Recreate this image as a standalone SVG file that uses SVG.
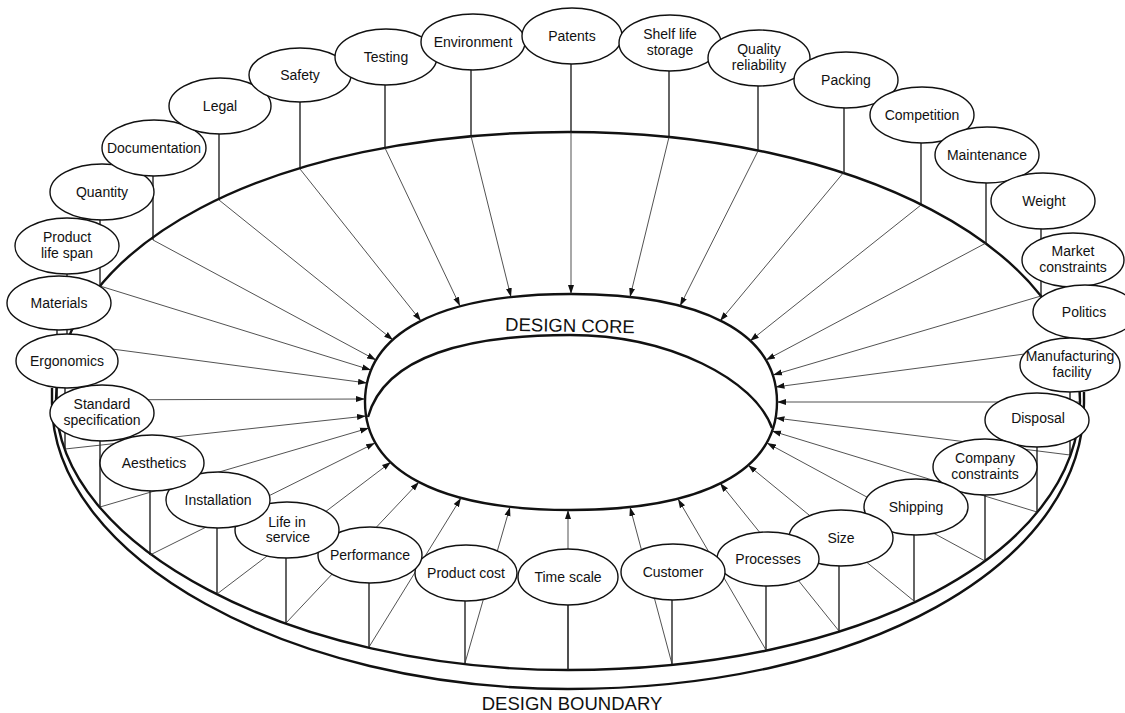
<svg xmlns="http://www.w3.org/2000/svg" width="1125" height="713" viewBox="0 0 1125 713">
<defs>
<style>
.node ellipse{fill:#fff;stroke:#111;stroke-width:1.4}
.node text,.lbl{font-family:"Liberation Sans",Arial,sans-serif;fill:#111;text-anchor:middle}
.node text{font-size:14px}
.lbl{font-size:18.5px}
.stem{stroke:#111;stroke-width:1.3;fill:none}
.arr{stroke:#333;stroke-width:0.85;fill:none;marker-end:url(#ah)}
.bd{fill:none;stroke:#111;stroke-width:2.4}
</style>
<marker id="ah" markerUnits="userSpaceOnUse" markerWidth="9" markerHeight="7" refX="9" refY="3.5" orient="auto"><path d="M0,0.5 L9,3.5 L0,6.5 z" fill="#111"/></marker>
</defs>
<rect width="1125" height="713" fill="#fff"/>
<g id="design-boundary">
<path class="bd" d="M56,401 C56,245 271,132 568,132 C855,132 1080,250 1080,401 C1080,554 860,670 568,670 C291.5,670 56,546 56,401 Z"/>
<path class="bd" d="M52,388 L52,403 C52,557 289,689 568,689 C862,689 1084,566 1084,403 L1084,392"/>
</g>
<g id="design-core">
<path class="bd" d="M365,402 C365,332.9 439.2,294 571,294 C702.8,294 777,332.9 777,402 C777,471.1 702.8,510 571,510 C439.2,510 365,471.1 365,402 Z"/>
<path class="bd" d="M368,417 C385,355 470,335 570,335 C670,335 755,380 772,428"/>
</g>
<g id="connectors">
<line class="stem" x1="57" y1="330" x2="57" y2="400"/><line class="arr" x1="57" y1="400" x2="365" y2="399"/>
<line class="stem" x1="67" y1="274" x2="67" y2="343"/><line class="arr" x1="67" y1="343" x2="367" y2="383"/>
<line class="stem" x1="100" y1="220" x2="100" y2="286"/><line class="arr" x1="100" y1="286" x2="371" y2="370"/>
<line class="stem" x1="153" y1="176" x2="153" y2="240"/><line class="arr" x1="153" y1="240" x2="376" y2="360"/>
<line class="stem" x1="219" y1="134" x2="219" y2="200"/><line class="arr" x1="219" y1="200" x2="393" y2="340"/>
<line class="stem" x1="300" y1="102" x2="300" y2="169"/><line class="arr" x1="300" y1="169" x2="421" y2="321"/>
<line class="stem" x1="385" y1="85" x2="385" y2="148"/><line class="arr" x1="385" y1="148" x2="460" y2="306"/>
<line class="stem" x1="471" y1="70" x2="471" y2="136"/><line class="arr" x1="471" y1="136" x2="511" y2="297"/>
<line class="stem" x1="571" y1="64" x2="571" y2="132"/><line class="arr" x1="571" y1="132" x2="571" y2="294"/>
<line class="stem" x1="669" y1="71" x2="669" y2="137"/><line class="arr" x1="669" y1="137" x2="630" y2="297"/>
<line class="stem" x1="758" y1="86" x2="758" y2="151"/><line class="arr" x1="758" y1="151" x2="680" y2="306"/>
<line class="stem" x1="844" y1="108" x2="844" y2="172"/><line class="arr" x1="844" y1="172" x2="720" y2="321"/>
<line class="stem" x1="921" y1="143" x2="921" y2="205"/><line class="arr" x1="921" y1="205" x2="750" y2="341"/>
<line class="stem" x1="986" y1="183" x2="986" y2="243"/><line class="arr" x1="986" y1="243" x2="766" y2="360"/>
<line class="stem" x1="1041" y1="229" x2="1041" y2="296"/><line class="arr" x1="1041" y1="296" x2="773" y2="375"/>
<line class="stem" x1="1070" y1="287" x2="1070" y2="348"/><line class="arr" x1="1070" y1="348" x2="775.5" y2="387"/>
<line class="stem" x1="1080" y1="339" x2="1080" y2="402"/><line class="arr" x1="1080" y1="402" x2="777" y2="402"/>
<line class="stem" x1="1070" y1="392" x2="1070" y2="455"/><line class="arr" x1="1070" y1="455" x2="775.5" y2="418"/>
<line class="stem" x1="1037" y1="447" x2="1037" y2="512"/><line class="arr" x1="1037" y1="512" x2="772" y2="431"/>
<line class="stem" x1="985" y1="495" x2="985" y2="561"/><line class="arr" x1="985" y1="561" x2="767" y2="443"/>
<line class="stem" x1="914" y1="535" x2="914" y2="601"/><line class="arr" x1="914" y1="601" x2="748" y2="465"/>
<line class="stem" x1="839" y1="566" x2="839" y2="631"/><line class="arr" x1="839" y1="631" x2="720" y2="483"/>
<line class="stem" x1="766" y1="586" x2="766" y2="650"/><line class="arr" x1="766" y1="650" x2="678" y2="499"/>
<line class="stem" x1="672" y1="600" x2="672" y2="664"/><line class="arr" x1="672" y1="664" x2="630" y2="507"/>
<line class="stem" x1="568" y1="605" x2="568" y2="670"/><line class="arr" x1="568" y1="670" x2="568" y2="510"/>
<line class="stem" x1="465" y1="601" x2="465" y2="663"/><line class="arr" x1="465" y1="663" x2="510" y2="507"/>
<line class="stem" x1="369" y1="583" x2="369" y2="647"/><line class="arr" x1="369" y1="647" x2="461" y2="498"/>
<line class="stem" x1="286" y1="558" x2="286" y2="623"/><line class="arr" x1="286" y1="623" x2="419" y2="482"/>
<line class="stem" x1="217" y1="528" x2="217" y2="594"/><line class="arr" x1="217" y1="594" x2="391" y2="462"/>
<line class="stem" x1="150" y1="491" x2="150" y2="555"/><line class="arr" x1="150" y1="555" x2="375" y2="443"/>
<line class="stem" x1="100" y1="441" x2="100" y2="507"/><line class="arr" x1="100" y1="507" x2="369" y2="428"/>
<line class="stem" x1="65" y1="388" x2="65" y2="449"/><line class="arr" x1="65" y1="449" x2="366" y2="416"/>
</g>
<g id="n-materials" class="node"><ellipse cx="59" cy="303" rx="52" ry="27"/><text x="59" y="308">Materials</text></g>
<g id="n-product-life-span" class="node"><ellipse cx="67" cy="246" rx="52" ry="28"/><text x="67" y="242">Product</text><text x="67" y="258">life span</text></g>
<g id="n-quantity" class="node"><ellipse cx="102" cy="192" rx="52" ry="28"/><text x="102" y="197">Quantity</text></g>
<g id="n-documentation" class="node"><ellipse cx="154" cy="148" rx="52" ry="28"/><text x="154" y="153">Documentation</text></g>
<g id="n-legal" class="node"><ellipse cx="220" cy="106" rx="51" ry="28"/><text x="220" y="111">Legal</text></g>
<g id="n-safety" class="node"><ellipse cx="300" cy="75" rx="51" ry="27"/><text x="300" y="80">Safety</text></g>
<g id="n-testing" class="node"><ellipse cx="386" cy="57" rx="51" ry="28"/><text x="386" y="62">Testing</text></g>
<g id="n-environment" class="node"><ellipse cx="473" cy="42" rx="52" ry="28"/><text x="473" y="47">Environment</text></g>
<g id="n-patents" class="node"><ellipse cx="572" cy="36" rx="50" ry="28"/><text x="572" y="41">Patents</text></g>
<g id="n-shelf-life-storage" class="node"><ellipse cx="670" cy="43" rx="51" ry="28"/><text x="670" y="39">Shelf life</text><text x="670" y="55">storage</text></g>
<g id="n-quality-reliability" class="node"><ellipse cx="759" cy="58" rx="51" ry="28"/><text x="759" y="54">Quality</text><text x="759" y="70">reliability</text></g>
<g id="n-packing" class="node"><ellipse cx="846" cy="80" rx="52" ry="28"/><text x="846" y="85">Packing</text></g>
<g id="n-competition" class="node"><ellipse cx="922" cy="115" rx="52" ry="28"/><text x="922" y="120">Competition</text></g>
<g id="n-maintenance" class="node"><ellipse cx="987" cy="155" rx="52" ry="28"/><text x="987" y="160">Maintenance</text></g>
<g id="n-weight" class="node"><ellipse cx="1043" cy="201" rx="52" ry="28"/><text x="1044" y="206">Weight</text></g>
<g id="n-market-constraints" class="node"><ellipse cx="1073" cy="260" rx="51" ry="27"/><text x="1073" y="256">Market</text><text x="1073" y="272">constraints</text></g>
<g id="n-politics" class="node"><ellipse cx="1085" cy="312" rx="52" ry="27"/><text x="1084" y="317">Politics</text></g>
<g id="n-manufacturing-facility" class="node"><ellipse cx="1070" cy="365" rx="50" ry="27"/><text x="1070" y="361">Manufacturing</text><text x="1072" y="377">facility</text></g>
<g id="n-disposal" class="node"><ellipse cx="1037" cy="420" rx="52" ry="27"/><text x="1038" y="423">Disposal</text></g>
<g id="n-company-constraints" class="node"><ellipse cx="985" cy="467" rx="52" ry="28"/><text x="985" y="463">Company</text><text x="985" y="479">constraints</text></g>
<g id="n-shipping" class="node"><ellipse cx="916" cy="507" rx="52" ry="28"/><text x="916" y="512">Shipping</text></g>
<g id="n-size" class="node"><ellipse cx="841" cy="538" rx="52" ry="28"/><text x="841" y="543">Size</text></g>
<g id="n-processes" class="node"><ellipse cx="768" cy="559" rx="51" ry="27"/><text x="768" y="564">Processes</text></g>
<g id="n-customer" class="node"><ellipse cx="673" cy="572" rx="52" ry="28"/><text x="673" y="577">Customer</text></g>
<g id="n-time-scale" class="node"><ellipse cx="568" cy="577" rx="50" ry="28"/><text x="568" y="582">Time scale</text></g>
<g id="n-product-cost" class="node"><ellipse cx="466" cy="573" rx="51" ry="28"/><text x="466" y="578">Product cost</text></g>
<g id="n-performance" class="node"><ellipse cx="370" cy="555" rx="52" ry="28"/><text x="370" y="560">Performance</text></g>
<g id="n-life-in-service" class="node"><ellipse cx="287" cy="530" rx="52" ry="28"/><text x="287" y="527">Life in</text><text x="288" y="542">service</text></g>
<g id="n-installation" class="node"><ellipse cx="218" cy="500" rx="52" ry="28"/><text x="218" y="505">Installation</text></g>
<g id="n-aesthetics" class="node"><ellipse cx="152" cy="463" rx="52" ry="28"/><text x="154" y="468">Aesthetics</text></g>
<g id="n-standard-specification" class="node"><ellipse cx="102" cy="413" rx="52" ry="28"/><text x="102" y="409">Standard</text><text x="102" y="425">specification</text></g>
<g id="n-ergonomics" class="node"><ellipse cx="67" cy="361" rx="51" ry="27"/><text x="67" y="366">Ergonomics</text></g>
<text class="lbl" x="570" y="332" transform="rotate(1 570 325)">DESIGN CORE</text>
<text class="lbl" x="572" y="710">DESIGN BOUNDARY</text>
</svg>
